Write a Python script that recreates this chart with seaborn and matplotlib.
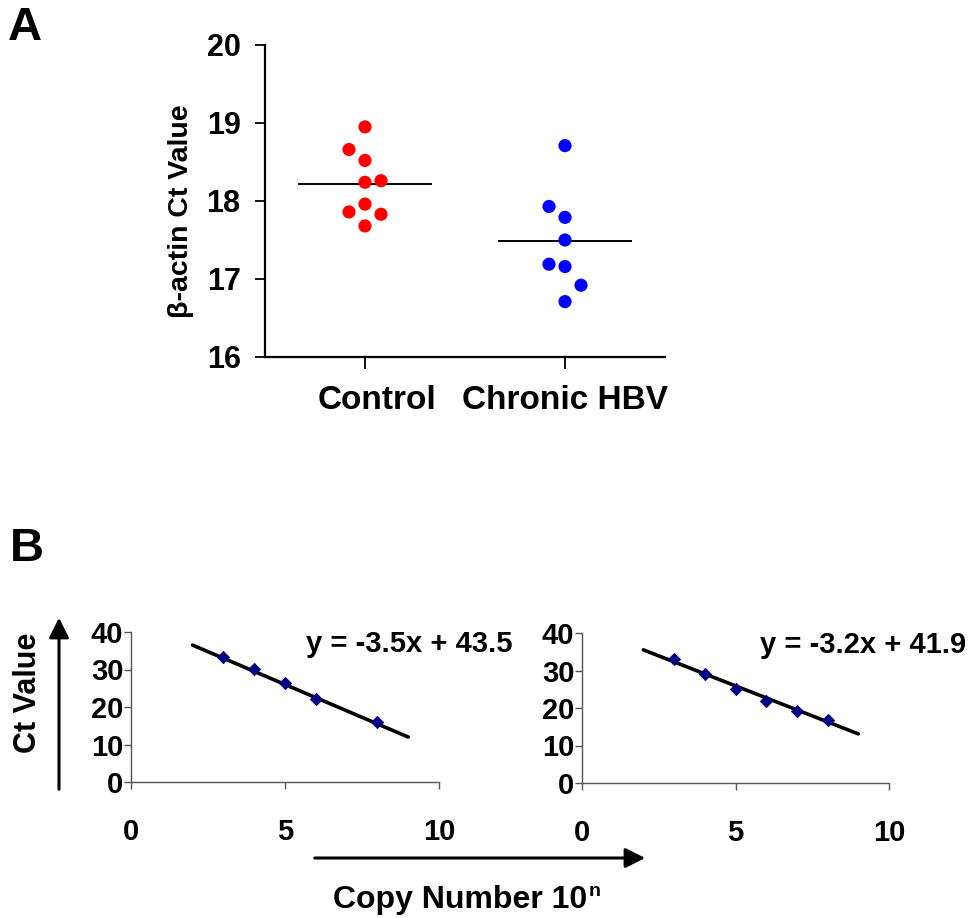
import numpy as np
import pandas as pd
import matplotlib
matplotlib.use("Agg")
import matplotlib.pyplot as plt
import matplotlib.transforms as mtransforms
from matplotlib.patches import FancyArrowPatch
import seaborn as sns

# ---- Panel A: beta-actin Ct values per group ----
groups = ["Control", "Chronic HBV"]
control_ct = [18.95, 18.66, 18.52, 18.24, 18.26, 17.96, 17.86, 17.83, 17.68]
hbv_ct = [18.71, 17.93, 17.79, 17.50, 17.19, 17.16, 16.92, 16.71]
# side-by-side lanes for overlapping dots (-1 left, 0 centre, 1 right)
control_lane = [0, -1, 0, 0, 1, 0, -1, 1, 0]
hbv_lane = [0, -1, 0, 0, -1, 0, 1, 0]
a_yticks = [16, 17, 18, 19, 20]

# ---- Panel B: standard curves ----
std1_logcopies = [3, 4, 5, 6, 8]
std1_ct = [33.3, 30.1, 26.5, 22.1, 16.0]
std1_slope, std1_intercept = -3.5, 43.5
std2_logcopies = [3, 4, 5, 6, 7, 8]
std2_ct = [33.1, 29.2, 25.1, 21.9, 19.2, 16.9]
std2_slope, std2_intercept = -3.2, 41.9
fit_range = [2, 9]
b_xticks = [0, 5, 10]
b_yticks = [0, 10, 20, 30, 40]

sns.set_theme(style="ticks")
plt.rcParams["font.family"] = ["Liberation Sans", "DejaVu Sans"]
plt.rcParams["font.weight"] = "bold"
plt.rcParams["text.color"] = "black"
plt.rcParams["axes.labelcolor"] = "black"
plt.rcParams["xtick.color"] = "black"
plt.rcParams["ytick.color"] = "black"

W, H = 977, 918
fig = plt.figure(figsize=(W / 100, H / 100), dpi=100)


def px_axes(left, top, right, bottom):
    return fig.add_axes([left / W, 1 - bottom / H, (right - left) / W, (bottom - top) / H])


# ================= Panel A =================
axA = px_axes(265, 45, 665, 357)
dfA = pd.DataFrame({
    "group": [groups[0]] * len(control_ct) + [groups[1]] * len(hbv_ct),
    "ct": control_ct + hbv_ct,
    "lane": control_lane + hbv_lane,
})
dfA["code"] = dfA["group"].map({g: i for i, g in enumerate(groups)})
dfA["xpos"] = dfA["code"] + dfA["lane"] * 0.08
sns.scatterplot(data=dfA, x="xpos", y="ct", hue="group",
                palette={groups[0]: "#ff0000", groups[1]: "#0000ff"},
                s=90, edgecolor="none", legend=False, ax=axA, zorder=3)
means = dfA.groupby("code")["ct"].mean()
for code, m in means.items():
    axA.hlines(m, code - 0.335, code + 0.335, color="black", lw=1.4, zorder=2)

axA.set_xlim(-0.5, 1.5)
axA.set_ylim(16, 20)
axA.set_xticks(range(len(groups)))
axA.set_xticklabels(groups, fontsize=24, fontweight="bold")
axA.set_yticks(a_yticks)
axA.set_yticklabels([str(t) for t in a_yticks], fontsize=22, fontweight="bold")
axA.set_xlabel("")
axA.set_ylabel("")
for side in ("top", "right"):
    axA.spines[side].set_visible(False)
for side in ("left", "bottom"):
    axA.spines[side].set_linewidth(1.6)
    axA.spines[side].set_color("black")
axA.tick_params(axis="y", length=7.5, width=1.3, pad=10, colors="black")
axA.tick_params(axis="x", length=8.5, width=1.3, pad=12, colors="black")
# the first category label sits a little right of its tick
lab0 = axA.get_xticklabels()[0]
lab0.set_transform(lab0.get_transform() +
                   mtransforms.ScaledTranslation(12 / 100, 0, fig.dpi_scale_trans))
fig.text(181 / W, 1 - 211 / H, "β-actin Ct Value", rotation=90, ha="center",
         va="center", fontsize=20.5, fontweight="bold")
fig.text(8 / W, 1 - 6 / H, "A", ha="left", va="top", fontsize=34, fontweight="bold")

# ================= Panel B =================
fig.text(10 / W, 1 - 527 / H, "B", ha="left", va="top", fontsize=34, fontweight="bold")


def std_curve(ax, xs, ys, slope, intercept):
    dfp = pd.DataFrame({"x": xs, "y": ys})
    fx = np.array(fit_range, dtype=float)
    dfl = pd.DataFrame({"x": fx, "y": slope * fx + intercept})
    sns.lineplot(data=dfl, x="x", y="y", color="black", lw=2.6, ax=ax, zorder=2)
    sns.scatterplot(data=dfp, x="x", y="y", marker="D", s=40, color="#000080",
                    edgecolor="#000080", ax=ax, zorder=3)
    ax.set_xlim(0, 10)
    ax.set_ylim(0, 40)
    ax.set_xticks(b_xticks)
    ax.set_xticklabels([str(t) for t in b_xticks], fontsize=21, fontweight="bold")
    ax.set_yticks(b_yticks)
    ax.set_yticklabels([str(t) for t in b_yticks], fontsize=21, fontweight="bold")
    ax.set_xlabel("")
    ax.set_ylabel("")
    for side in ("top", "right"):
        ax.spines[side].set_visible(False)
    for side in ("left", "bottom"):
        ax.spines[side].set_linewidth(1.0)
        ax.spines[side].set_color("#555555")
    ax.tick_params(axis="y", length=5, width=1.0, color="#555555", pad=0.5,
                   labelcolor="black")
    ax.tick_params(axis="x", length=5, width=1.0, color="#555555", pad=21,
                   labelcolor="black")
    sign = "-" if slope < 0 else ""
    ax.text(1.0, 1.0, f"y = {sign}{abs(slope):.1f}x + {intercept:.1f}",
            transform=ax.transAxes, ha="right", va="center", fontsize=21,
            fontweight="bold")


axB1 = px_axes(131, 632, 439, 782)
std_curve(axB1, std1_logcopies, std1_ct, std1_slope, std1_intercept)
axB1.texts[-1].set_position((1.24, 0.92))
axB2 = px_axes(582, 633, 889, 783)
std_curve(axB2, std2_logcopies, std2_ct, std2_slope, std2_intercept)
axB2.texts[-1].set_position((1.25, 0.92))

# Axis arrows and shared labels
up = FancyArrowPatch((59 / W, 1 - 792 / H), (59 / W, 1 - 615 / H),
                     transform=fig.transFigure, arrowstyle="-|>,head_length=0.8,head_width=0.4",
                     mutation_scale=15, lw=2.2, color="black")
right = FancyArrowPatch((312 / W, 1 - 858 / H), (648 / W, 1 - 858 / H),
                        transform=fig.transFigure, arrowstyle="-|>,head_length=0.8,head_width=0.4",
                        mutation_scale=15, lw=2.2, color="black")
fig.add_artist(up)
fig.add_artist(right)
fig.text(28 / W, 1 - 693 / H, "Ct Value", rotation=90, ha="center", va="center",
         fontsize=22, fontweight="bold")
fig.text(460 / W, 1 - 908 / H, "Copy Number 10", ha="center",
         va="baseline", fontsize=23, fontweight="bold")
fig.text(589 / W, 1 - 896 / H, "n", ha="left", va="baseline", fontsize=14,
         fontweight="bold")

fig.savefig("out.png", dpi=100, facecolor="white")
